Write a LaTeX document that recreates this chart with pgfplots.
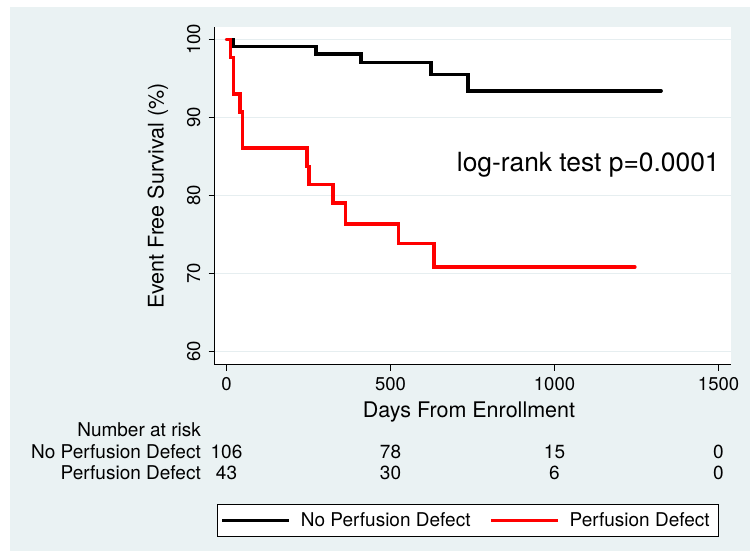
\documentclass[border=0pt]{standalone}
\usepackage{fontspec}
\setmainfont{TeX Gyre Heros}
\usepackage{pgfplots}
\pgfplotsset{compat=1.18}
\definecolor{stbg}{RGB}{234,242,243}
\definecolor{stgrid}{RGB}{230,238,240}
\newcommand{\fs}[1]{\fontsize{#1}{#1}\selectfont}

\begin{document}
\begin{tikzpicture}
\path[use as bounding box, fill=white] (0bp,0bp) rectangle (750bp,551bp);
\fill[stbg] (10bp,0bp) rectangle (750bp,543.7bp);
\begin{axis}[
  at={(214.5bp,186bp)}, anchor=south west,
  scale only axis, width=516.5bp, height=338bp,
  xmin=-36.6, xmax=1538, ymin=58.24, ymax=101.58,
  axis lines*=left,
  axis line style={line width=1bp, black},
  axis background/.style={fill=white},
  xtick={0,500,1000,1500}, ytick={60,70,80,90,100},
  tick align=outside, major tick length=6bp,
  tick style={line width=1bp, black},
  ymajorgrids, grid style={stgrid, line width=1bp},
  /pgf/number format/assume math mode=true,
  /pgf/number format/1000 sep={},
  ticklabel style={font=\fs{18.5bp}},
  xticklabel style={anchor=north, inner sep=0pt, yshift=-6bp},
  yticklabel style={xshift=-8bp, rotate=90, anchor=south, inner sep=0pt},
  xlabel={Days From Enrollment},
  ylabel={Event Free Survival (\%)},
  xlabel style={at={(axis description cs:0.4927,-0.1559)}, anchor=base, font=\fs{21.5bp}, inner sep=0pt},
  ylabel style={at={(axis description cs:-0.1094,0.5)}, anchor=center, font=\fs{21.5bp}, inner sep=0pt},
  clip=false,
  legend columns=2,
  legend cell align=left,
  legend style={
    at={(axis description cs:0.00484,-0.5098)}, anchor=south west,
    draw=black, line width=1bp, fill=white,
    inner xsep=3bp, inner ysep=8.4bp,
    font=\fs{19bp},
    nodes={inner xsep=5.3bp, inner ysep=0pt},
    /tikz/every even column/.append style={column sep=13.4bp},
  },
  legend image code/.code={\draw[#1, line width=3.5bp, line cap=butt] (0bp,0bp) -- (67bp,0bp); \path (71.6bp,0bp);},
]
% Kaplan-Meier estimates (day, survival %)
\addplot[black, line width=3.5bp, const plot, line cap=round, line join=miter] coordinates {
  (0,100) (21,99.06) (273,98.1) (410,97.0) (623,95.5) (736,93.4) (1325,93.4)
};
\addlegendentry{No Perfusion Defect}
\addplot[red, line width=3.5bp, const plot, line cap=round, line join=miter] coordinates {
  (0,100) (12,97.67) (21,93.02) (41,90.70) (48,86.05) (245,83.72) (252,81.40)
  (324,79.0) (363,76.3) (524,73.8) (633,70.8) (1245,70.8)
};
\addlegendentry{Perfusion Defect}
\end{axis}
\node[anchor=base west, font=\fs{26.4bp}, inner sep=0pt] at (456.7bp,379.3bp) {log-rank test p=0.0001};
\begin{scope}[every node/.style={font=\fs{19bp}, inner sep=0pt}]
\node[anchor=base east] at (201bp,114bp) {Number at risk};
\node[anchor=base east] at (201bp,92.5bp) {No Perfusion Defect};
\node[anchor=base east] at (201bp,71bp) {Perfusion Defect};
\node[anchor=base] at (226.5bp,92.5bp) {106};
\node[anchor=base] at (390.5bp,92.5bp) {78};
\node[anchor=base] at (554.5bp,92.5bp) {15};
\node[anchor=base] at (718.5bp,92.5bp) {0};
\node[anchor=base] at (226.5bp,71bp) {43};
\node[anchor=base] at (390.5bp,71bp) {30};
\node[anchor=base] at (554.5bp,71bp) {6};
\node[anchor=base] at (718.5bp,71bp) {0};
\end{scope}
\end{tikzpicture}
\end{document}
